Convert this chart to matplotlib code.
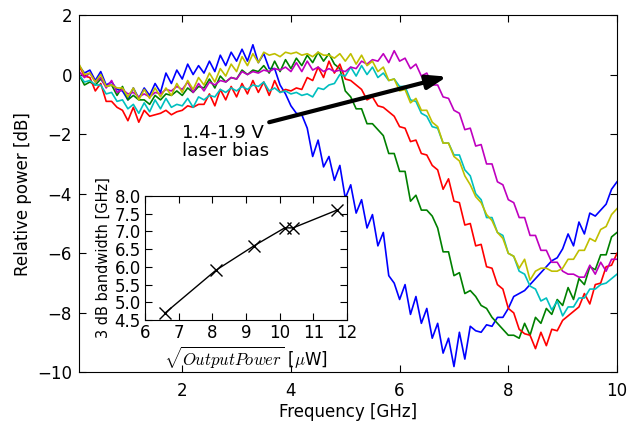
import numpy as np
import matplotlib
matplotlib.use("Agg")
import matplotlib.pyplot as plt

# frequency grid of the measured responses (GHz)
freq = np.round(np.arange(0.1, 10.05, 0.1), 2)

# relative power [dB], one list per laser bias
blue = [0.30, 0.05, 0.15, -0.20, 0.10, -0.35, -0.25, -0.50, -0.55, -0.85,
        -0.45, -0.80, -0.45, -0.70, -0.30, -0.60, 0.05, -0.30, 0.15, -0.15,
        0.35, 0.00, 0.30, 0.05, 0.45, 0.10, 0.65, 0.30, 0.75, 0.45,
        0.85, 0.45, 1.00, 0.40, 0.70, 0.20, 0.20, -0.35, -0.65, -1.05,
        -1.30, -1.35, -1.80, -2.75, -2.20, -3.10, -2.75, -3.55, -3.05, -4.15,
        -3.70, -4.65, -4.20, -5.15, -4.70, -5.75, -5.30, -6.75, -7.00, -7.55,
        -7.05, -8.05, -7.45, -8.35, -7.85, -8.85, -8.35, -9.35, -8.85, -9.80,
        -8.65, -9.55, -8.45, -8.60, -8.65, -8.40, -8.45, -8.15, -8.15, -7.85,
        -7.45, -7.35, -7.25, -7.05, -6.85, -6.65, -6.45, -6.25, -6.15, -5.85,
        -5.35, -5.75, -4.95, -5.35, -4.65, -4.75, -4.55, -4.35, -3.85, -3.60]
green = [0.00, -0.35, -0.25, -0.35, -0.15, -0.40, -0.35, -0.70, -0.40, -0.85,
         -0.70, -0.85, -0.85, -1.00, -0.70, -0.85, -0.65, -0.70, -0.55, -0.70,
         -0.45, -0.60, -0.40, -0.45, -0.15, -0.45, -0.05, -0.25, -0.10, -0.15,
         0.15, 0.00, 0.15, 0.10, 0.30, 0.05, 0.45, 0.10, 0.50, 0.20,
         0.55, 0.30, 0.65, 0.40, 0.75, 0.45, 0.70, 0.35, 0.20, -0.55,
         -0.75, -1.15, -1.15, -1.65, -1.65, -1.85, -2.05, -2.65, -2.65, -3.25,
         -3.25, -4.25, -4.05, -4.55, -4.55, -4.75, -5.15, -5.95, -5.95, -6.75,
         -6.65, -7.35, -7.25, -7.45, -7.75, -7.85, -8.15, -8.35, -8.55, -8.75,
         -8.75, -8.85, -8.35, -8.75, -8.15, -8.35, -7.85, -8.05, -7.55, -7.75,
         -7.15, -7.55, -6.85, -7.05, -6.45, -6.55, -6.05, -6.05, -5.45, -5.30]
red = [0.30, -0.05, -0.10, -0.55, -0.30, -0.90, -0.90, -1.10, -1.20, -1.55,
       -1.10, -1.60, -1.20, -1.40, -1.35, -1.30, -1.20, -1.35, -1.25, -1.20,
       -1.05, -1.10, -1.00, -1.00, -0.65, -1.05, -0.50, -0.85, -0.40, -0.75,
       -0.30, -0.65, -0.20, -0.60, -0.25, -0.70, -0.20, -0.60, -0.50, -0.55,
       -0.45, -0.50, -0.10, -0.20, 0.25, -0.10, 0.45, 0.05, 0.35, -0.15,
       -0.20, -0.35, -0.50, -0.85, -0.75, -1.05, -1.10, -1.25, -1.40, -1.75,
       -1.80, -2.25, -2.20, -2.65, -2.70, -3.05, -3.20, -3.85, -3.50, -4.25,
       -4.30, -5.05, -5.00, -5.75, -5.70, -6.45, -6.50, -7.05, -7.20, -7.85,
       -8.00, -8.55, -8.70, -8.75, -9.20, -8.65, -9.10, -8.55, -8.60, -8.25,
       -8.10, -7.95, -7.80, -7.35, -7.70, -7.05, -7.00, -6.45, -6.40, -6.00]
cyan = [0.00, -0.25, -0.20, -0.35, -0.35, -0.65, -0.60, -0.90, -0.85, -1.15,
        -1.00, -1.30, -0.95, -1.25, -0.85, -1.15, -0.80, -1.10, -1.00, -1.05,
        -0.80, -1.10, -0.75, -0.85, -0.70, -0.75, -0.50, -0.60, -0.45, -0.55,
        -0.40, -0.50, -0.35, -0.40, -0.25, -0.55, -0.45, -0.60, -0.55, -0.65,
        -0.60, -0.70, -0.65, -0.75, -0.45, -0.50, -0.35, -0.30, 0.00, -0.05,
        0.25, -0.05, 0.30, 0.00, 0.25, -0.10, 0.05, -0.20, -0.15, -0.40,
        -0.40, -0.85, -0.90, -1.30, -1.40, -1.75, -1.80, -2.30, -2.30, -2.70,
        -2.70, -3.20, -3.40, -4.00, -4.20, -4.80, -4.80, -5.30, -5.40, -6.00,
        -6.10, -6.60, -6.70, -7.10, -7.20, -7.60, -7.50, -7.90, -7.60, -8.10,
        -7.80, -7.80, -7.50, -7.50, -7.20, -7.20, -7.05, -7.00, -6.85, -6.70]
magenta = [0.10, -0.10, 0.05, -0.25, -0.10, -0.45, -0.20, -0.60, -0.50, -0.65,
           -0.60, -0.75, -0.65, -0.75, -0.60, -0.65, -0.50, -0.55, -0.40, -0.50,
           -0.25, -0.60, -0.30, -0.55, -0.25, -0.35, -0.20, -0.25, -0.10, -0.15,
           0.10, 0.00, 0.10, 0.05, 0.15, 0.10, 0.20, 0.15, 0.25, 0.10,
           0.40, 0.10, 0.45, 0.15, 0.25, 0.10, 0.20, 0.10, 0.15, 0.10,
           0.25, 0.20, 0.45, 0.35, 0.50, 0.45, 0.70, 0.40, 0.80, 0.45,
           0.55, 0.20, 0.35, -0.05, 0.05, -0.35, -0.35, -0.75, -0.80, -1.20,
           -1.30, -1.85, -1.80, -2.40, -2.35, -3.00, -3.00, -3.60, -3.70, -4.20,
           -4.30, -4.80, -4.80, -5.40, -5.40, -5.90, -5.90, -6.30, -6.30, -6.60,
           -6.70, -6.70, -6.80, -6.80, -6.40, -6.70, -6.30, -6.60, -6.20, -6.20]
yellow = [0.35, 0.00, 0.05, -0.25, 0.00, -0.40, -0.35, -0.45, -0.45, -0.75,
          -0.45, -0.85, -0.50, -0.80, -0.45, -0.75, -0.45, -0.70, -0.30, -0.60,
          -0.20, -0.50, -0.10, -0.35, 0.05, -0.25, 0.20, -0.05, 0.35, 0.10,
          0.60, 0.30, 0.70, 0.40, 0.75, 0.65, 0.70, 0.60, 0.75, 0.70,
          0.75, 0.65, 0.70, 0.60, 0.75, 0.65, 0.65, 0.55, 0.70, 0.45,
          0.70, 0.35, 0.65, 0.30, 0.45, 0.10, 0.25, -0.20, -0.15, -0.55,
          -0.50, -0.95, -0.80, -1.20, -1.20, -1.60, -1.75, -2.30, -2.30, -2.75,
          -2.90, -3.40, -3.70, -4.10, -4.30, -4.70, -4.90, -5.30, -5.50, -6.00,
          -6.10, -6.50, -6.20, -6.90, -6.60, -6.50, -6.50, -6.60, -6.60, -6.50,
          -6.20, -6.20, -5.90, -5.90, -5.50, -5.60, -5.20, -5.10, -4.70, -4.50]

# inset: 3 dB bandwidth vs sqrt(output power)
sqrt_power = [6.6, 8.1, 9.25, 10.15, 10.4, 11.7]
bandwidth = [4.7, 5.9, 6.6, 7.1, 7.1, 7.6]

plt.rcParams['font.family'] = ['DejaVu Sans']
plt.rcParams['font.size'] = 12
plt.rcParams['mathtext.fontset'] = 'cm'
plt.rcParams['xtick.direction'] = 'in'
plt.rcParams['ytick.direction'] = 'in'
plt.rcParams['xtick.top'] = True
plt.rcParams['ytick.right'] = True
plt.rcParams['xtick.major.size'] = 5
plt.rcParams['ytick.major.size'] = 5
plt.rcParams['xtick.major.pad'] = 7
plt.rcParams['ytick.major.pad'] = 5

fig = plt.figure(figsize=(6.31, 4.24), dpi=100)
ax = fig.add_axes([0.1252, 0.1215, 0.8526, 0.8432])

series = [(blue, (0, 0, 1)), (green, (0, 0.5, 0)), (red, (1, 0, 0)),
          (cyan, (0, 0.75, 0.75)), (magenta, (0.75, 0, 0.75)),
          (yellow, (0.75, 0.75, 0))]
for vals, col in series:
    ax.plot(freq, vals, color=col, lw=1.2)

ax.set_xlim(0.1, 10)
ax.set_ylim(-10, 2)
ax.set_xticks([2, 4, 6, 8, 10])
ax.set_yticks([-10, -8, -6, -4, -2, 0, 2])
ax.set_xlabel('Frequency [GHz]', labelpad=2)
ax.set_ylabel('Relative power [dB]', labelpad=4)

ax.annotate('', xy=(6.87, -0.07), xytext=(3.6, -1.6),
            arrowprops=dict(arrowstyle='-|>,head_length=1.0,head_width=0.35',
                            color='black', lw=3, shrinkA=0, shrinkB=0))
ax.text(2.0, -2.25, '1.4-1.9 V\nlaser bias', fontsize=13,
        ha='left', va='center', linespacing=1.0)

ins = fig.add_axes([0.2298, 0.2453, 0.3201, 0.2925])
ins.plot(sqrt_power, bandwidth, color='black', lw=1, marker='x',
         markersize=8, mew=1)
ins.set_xlim(6, 12)
ins.set_ylim(4.5, 8.0)
ins.set_xticks(range(6, 13))
ins.set_yticks(np.arange(4.5, 8.01, 0.5))
ins.yaxis.set_major_formatter(matplotlib.ticker.FormatStrFormatter('%.1f'))
ins.tick_params(labelsize=12, pad=3)
ins.set_xlabel(r'$\sqrt{OutputPower}$ [$\mu$W]', fontsize=12, labelpad=2)
ins.set_ylabel('3 dB bandwidth [GHz]', fontsize=10.5, labelpad=3)

fig.savefig('out.png', dpi=100)
